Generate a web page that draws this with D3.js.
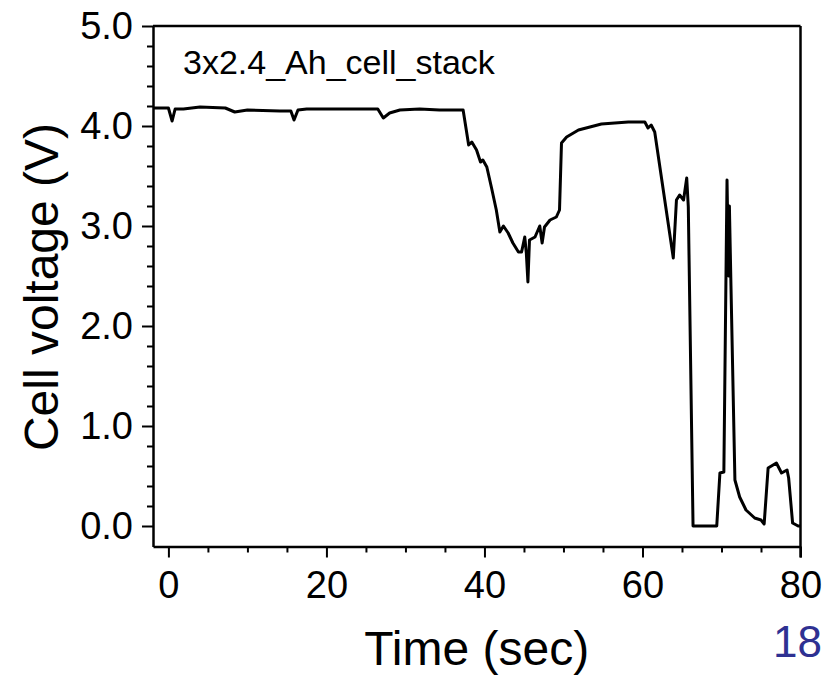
<!DOCTYPE html>
<html>
<head>
<meta charset="utf-8">
<script src="https://cdn.jsdelivr.net/npm/d3@7"></script>
<style>
  body { margin: 0; background: #fff; }
  text { font-family: "Liberation Sans", Arial, sans-serif; }
</style>
</head>
<body>
<div id="chart1"></div>
<script>
// time (sec) and cell voltage (V)
var timeSec = [-1.9, 0.0, 0.47, 0.85, 1.9, 4.0, 7.2, 8.4, 10.0, 14.1, 15.5, 15.9, 16.4, 17.5, 26.5, 27.2, 28.0, 29.3, 31.8, 34.3, 37.1,
  37.3, 37.7, 38.0, 38.4, 39.0, 39.5, 39.8, 40.3, 40.9, 41.5, 41.95, 42.4, 43.0, 43.6, 44.3, 44.7, 45.1, 45.3, 45.5, 45.7,
  46.4, 47.0, 47.3, 47.6, 48.3, 49.1, 49.5, 49.75, 50.4, 51.9, 54.8, 58.2, 60.3, 60.7, 61.1, 61.55, 63.9, 64.3, 64.7,
  65.2, 65.6, 65.8, 66.4, 69.4, 69.8, 70.3, 70.7, 70.9, 71.0, 71.2, 71.7, 72.3, 73.1, 74.2, 75.0, 75.4, 75.9, 76.95,
  77.6, 78.3, 78.5, 79.0, 79.7, 80.0];
var voltage = [4.18, 4.18, 4.05, 4.17, 4.17, 4.19, 4.18, 4.14, 4.16, 4.15, 4.15, 4.06, 4.16, 4.17, 4.17, 4.08, 4.13, 4.16, 4.17, 4.16, 4.16,
  4.16, 3.96, 3.81, 3.84, 3.76, 3.64, 3.66, 3.59, 3.38, 3.16, 2.94, 3.0, 2.93, 2.83, 2.74, 2.74, 2.89, 2.73, 2.44, 2.86,
  2.89, 3.0, 2.83, 2.99, 3.06, 3.09, 3.16, 3.83, 3.89, 3.96, 4.02, 4.04, 4.04, 3.98, 4.01, 3.94, 2.68, 3.26, 3.31,
  3.26, 3.48, 3.19, 0.0, 0.0, 0.53, 0.54, 3.46, 2.5, 3.2, 2.4, 0.46, 0.29, 0.16, 0.08, 0.06, 0.02, 0.58, 0.63,
  0.53, 0.56, 0.48, 0.03, 0.0, 0.0];

var xMajor = [0, 20, 40, 60, 80];
var xMinor = [5, 10, 15, 25, 30, 35, 45, 50, 55, 65, 70, 75];
var yMajor = [0, 1, 2, 3, 4, 5];
var yMinor = [0.2, 0.4, 0.6, 0.8, 1.2, 1.4, 1.6, 1.8, 2.2, 2.4, 2.6, 2.8, 3.2, 3.4, 3.6, 3.8, 4.2, 4.4, 4.6, 4.8];

var data = timeSec.map(function(t, i) { return {t: t, v: voltage[i]}; });

//Width and height
var w = 827;
var h = 678;
var padLeft = 153, padRight = 800.5, padTop = 26, padBottom = 546.5;

var xScale = d3.scaleLinear()
  .domain([-1.95, 80])
  .range([padLeft, padRight]);

var yScale = d3.scaleLinear()
  .domain([-0.205, 5.0])
  .range([padBottom, padTop]);

var svg = d3.select("#chart1")
  .append("svg")
  .attr("width", w)
  .attr("height", h);

svg.append("rect").attr("width", w).attr("height", h).attr("fill", "#fff");

//Minor ticks first, majors on top
svg.append("g")
  .attr("transform", "translate(0," + padBottom + ")")
  .call(d3.axisBottom(xScale).tickValues(xMinor).tickSize(6).tickFormat(""))
  .call(function(g) { g.select(".domain").remove(); })
  .selectAll("line").attr("stroke-width", 2);

svg.append("g")
  .attr("transform", "translate(" + padLeft + ",0)")
  .call(d3.axisLeft(yScale).tickValues(yMinor).tickSize(6).tickFormat(""))
  .call(function(g) { g.select(".domain").remove(); })
  .selectAll("line").attr("stroke-width", 2);

//X axis
var gx = svg.append("g")
  .attr("transform", "translate(0," + padBottom + ")")
  .call(d3.axisBottom(xScale).tickValues(xMajor).tickSize(11).tickPadding(14).tickSizeOuter(0))
gx.select(".domain").attr("stroke-width", 2.5);
gx.selectAll("line").attr("stroke-width", 2);
gx.selectAll("text")
  .style("font-size", "38px")
  .attr("fill", "#000")
  .style("font-family", "'Liberation Sans', Arial, sans-serif");

//Y axis
var gy = svg.append("g")
  .attr("transform", "translate(" + padLeft + ",0)")
  .call(d3.axisLeft(yScale).tickValues(yMajor).tickSize(11).tickPadding(9).tickSizeOuter(0).tickFormat(d3.format(".1f")))
gy.select(".domain").attr("stroke-width", 2.5);
gy.selectAll("line").attr("stroke-width", 2);
gy.selectAll("text")
  .style("font-size", "38px")
  .attr("fill", "#000")
  .style("font-family", "'Liberation Sans', Arial, sans-serif");

//frame top and right
svg.append("line")
  .attr("x1", padLeft).attr("x2", padRight).attr("y1", padTop).attr("y2", padTop)
  .attr("stroke", "#000").attr("stroke-width", 2.5);
svg.append("line")
  .attr("x1", padRight).attr("x2", padRight).attr("y1", padTop).attr("y2", padBottom + 11)
  .attr("stroke", "#000").attr("stroke-width", 2.5);

//voltage trace
var line = d3.line()
  .x(function(d) { return xScale(d.t); })
  .y(function(d) { return yScale(d.v); });

svg.append("path")
  .datum(data)
  .attr("d", line)
  .attr("fill", "none")
  .attr("stroke", "#000")
  .attr("stroke-width", 3)
  .attr("stroke-linejoin", "round");

//labels
svg.append("text")
  .attr("x", 183).attr("y", 74)
  .style("font-size", "34px")
  .text("3x2.4_Ah_cell_stack");

svg.append("text")
  .attr("x", (padLeft + padRight) / 2).attr("y", 665)
  .attr("text-anchor", "middle")
  .style("font-size", "48px")
  .text("Time (sec)");

svg.append("text")
  .attr("transform", "translate(58," + 287 + ") rotate(-90)")
  .attr("text-anchor", "middle")
  .style("font-size", "48px")
  .text("Cell voltage (V)");

svg.append("text")
  .attr("x", 822).attr("y", 657)
  .attr("text-anchor", "end")
  .attr("fill", "#2e3192")
  .style("font-size", "44px")
  .text("18");
</script>
</body>
</html>
